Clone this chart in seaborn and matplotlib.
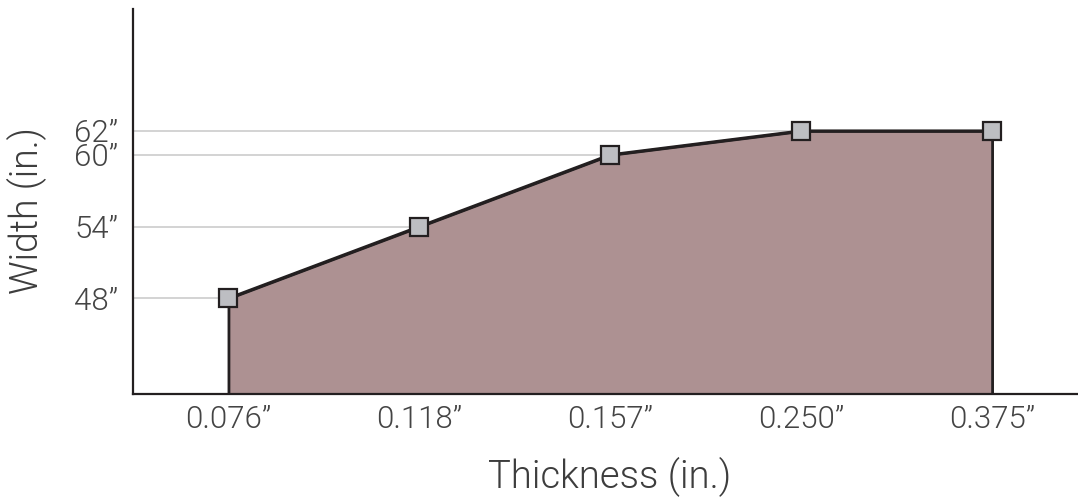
import matplotlib
matplotlib.use("Agg")
import matplotlib.pyplot as plt
import seaborn as sns
import pandas as pd

thickness_labels = ["0.076\u201d", "0.118\u201d", "0.157\u201d", "0.250\u201d", "0.375\u201d"]
width_values = [48, 54, 60, 62, 62]
ytick_values = [48, 54, 60, 62]
ytick_labels = ["48\u201d", "54\u201d", "60\u201d", "62\u201d"]

sns.set_theme(style="white")
plt.rcParams["font.family"] = ["Roboto", "DejaVu Sans"]
plt.rcParams["font.weight"] = 300

df = pd.DataFrame({"pos": list(range(len(thickness_labels))), "width": width_values})
n_last = len(thickness_labels) - 1

fig = plt.figure(figsize=(10.78, 4.97), dpi=100)
ax = fig.add_axes([133 / 1078, 1 - 394 / 497, 1 - 133 / 1078, (394 - 9) / 497])

ax.set_ylim(40, 72.2)
ax.set_xlim(-0.5, 4.45)

ax.hlines(ytick_values, -0.5, n_last, color="#cccccc", lw=1.2, zorder=0)

ax.fill_between(df["pos"], df["width"], 40, facecolor="#ad9192",
                edgecolor="#231f20", linewidth=2, zorder=2)
sns.lineplot(data=df, x="pos", y="width", ax=ax, color="#231f20", lw=2.2,
             marker="s", markersize=12.5, markerfacecolor="#bdbec2",
             markeredgecolor="#231f20", markeredgewidth=1.6, zorder=3)

ax.set_xticks(df["pos"])
ax.set_xticklabels(thickness_labels, fontweight=300)
ax.set_yticks(ytick_values)
ax.set_yticklabels(ytick_labels, fontweight=300)
ax.tick_params(axis="both", length=0, labelsize=22.5, labelcolor="#444444")
ax.tick_params(axis="y", pad=10.5)
ax.tick_params(axis="x", pad=8)

for s in ["top", "right"]:
    ax.spines[s].set_visible(False)
for s in ["left", "bottom"]:
    ax.spines[s].set_color("#231f20")
    ax.spines[s].set_linewidth(1.6)

ax.set_xlabel("Thickness (in.)", fontsize=27.5, color="#3d3d3d", fontweight=300)
ax.set_ylabel("Width (in.)", fontsize=27, color="#3d3d3d", fontweight=300)
ax.xaxis.set_label_coords((610 - 133) / (1078 - 133), -(457 - 394) / (394 - 9))
ax.yaxis.set_label_coords(-(133 - 47) / (1078 - 133), (394 - 211) / (394 - 9))

fig.savefig("out.png", dpi=100)
